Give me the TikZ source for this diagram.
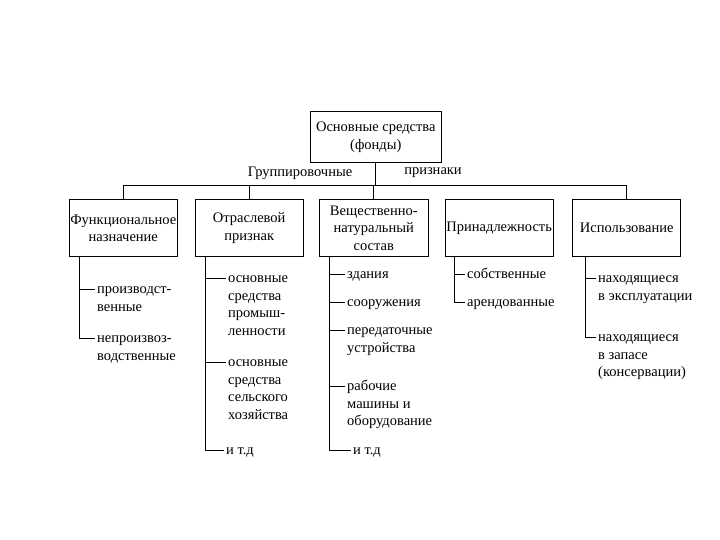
\documentclass[tikz,border=0pt]{standalone}
\usepackage{fontspec}
\setmainfont{Liberation Serif}
\newcommand\itmlines[1]{\begin{tabular}[t]{@{}l@{}}#1\end{tabular}}
\begin{document}
\begin{tikzpicture}[x=1pt,y=-1pt,
  every node/.style={font=\fontsize{14.5}{17.5}\selectfont},
  box/.style={draw,line width=0.9pt,align=center,inner sep=0pt,minimum height=56.7pt,minimum width=108.3pt},
  item/.style={anchor=base west,inner sep=0pt,xshift=2pt,yshift=-4.5pt},
  ln/.style={line width=0.9pt}]
\useasboundingbox (0,0) rectangle (720,540);
% top
\node[box,minimum width=131.7pt,minimum height=51.7pt] (top) at (375.8,137) {Основные средства\\(фонды)};
\node (lg) at (300,173) {Группировочные};
\node (lp) at (433,173) {признаки};
% category boxes
\node[box] (b1) at (123.3,228.3) {Функциональное\\назначение};
\node[box] (b2) at (249.2,228.3) {Отраслевой\\признак};
\node[box] (b3) at (373.8,228.3) {Вещественно-\\натуральный\\состав};
\node[box] (b4) at (499.2,228.3) {Принадлежность};
\node[box] (b5) at (626.7,228.3) {Использование};
% bus
\coordinate (bus) at (375,185);
\draw[ln] (top.south) -- (top.south |- bus);
\draw[ln] (b1.north) -- (b1.north |- bus) -- (b5.north |- bus) -- (b5.north);
\draw[ln] (b2.north) -- (b2.north |- bus);
\draw[ln] (b3.north) -- (b3.north |- bus);
% items box1
\coordinate (t11) at (95,289);
\coordinate (t12) at (95,338);
\node[item] (i11) at (t11) {\itmlines{производст-\\венные}};
\node[item] (i12) at (t12) {\itmlines{непроизвоз-\\водственные}};
\coordinate (r1) at ([xshift=-44pt]b1.south);
\draw[ln] (r1) |- (t12);
\draw[ln] (r1 |- t11) -- (t11);
% items box2
\coordinate (t21) at (226,278);
\coordinate (t22) at (226,362);
\coordinate (t23) at (224,450);
\node[item] (i21) at (t21) {\itmlines{основные\\средства\\промыш-\\ленности}};
\node[item] (i22) at (t22) {\itmlines{основные\\средства\\сельского\\хозяйства}};
\node[item] (i23) at (t23) {и т.д};
\coordinate (r2) at ([xshift=-43.5pt]b2.south);
\draw[ln] (r2) |- (t23);
\draw[ln] (r2 |- t21) -- (t21);
\draw[ln] (r2 |- t22) -- (t22);
% items box3
\coordinate (t31) at (345,274);
\coordinate (t32) at (345,302);
\coordinate (t33) at (345,330);
\coordinate (t34) at (345,386);
\coordinate (t35) at (351,450);
\node[item] (i31) at (t31) {здания};
\node[item] (i32) at (t32) {сооружения};
\node[item] (i33) at (t33) {\itmlines{передаточные\\устройства}};
\node[item] (i34) at (t34) {\itmlines{рабочие\\машины и\\оборудование}};
\node[item] (i35) at (t35) {и т.д};
\coordinate (r3) at ([xshift=-44.5pt]b3.south);
\draw[ln] (r3) |- (t35);
\draw[ln] (r3 |- t31) -- (t31);
\draw[ln] (r3 |- t32) -- (t32);
\draw[ln] (r3 |- t33) -- (t33);
\draw[ln] (r3 |- t34) -- (t34);
% items box4
\coordinate (t41) at (465,274);
\coordinate (t42) at (465,302);
\node[item] (i41) at (t41) {собственные};
\node[item] (i42) at (t42) {арендованные};
\coordinate (r4) at ([xshift=-45pt]b4.south);
\draw[ln] (r4) |- (t42);
\draw[ln] (r4 |- t41) -- (t41);
% items box5
\coordinate (t51) at (596,278);
\coordinate (t52) at (596,337);
\node[item] (i51) at (t51) {\itmlines{находящиеся\\в эксплуатации}};
\node[item] (i52) at (t52) {\itmlines{находящиеся\\в запасе\\(консервации)}};
\coordinate (r5) at ([xshift=-41.7pt]b5.south);
\draw[ln] (r5) |- (t52);
\draw[ln] (r5 |- t51) -- (t51);
\end{tikzpicture}
\end{document}
